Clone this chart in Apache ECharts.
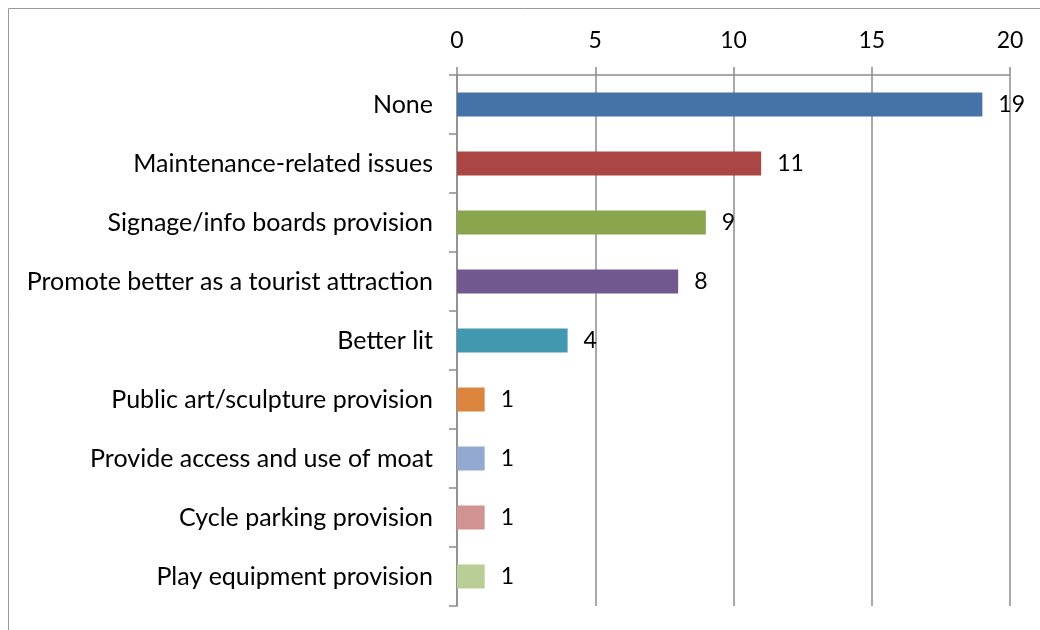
<!DOCTYPE html>
<html>
<head>
<meta charset="utf-8">
<script src="https://cdn.jsdelivr.net/npm/echarts@6/dist/echarts.min.js"></script>
<style>
  html, body { margin: 0; padding: 0; background: #fff; }
  #chart { width: 1040px; height: 630px; }
</style>
</head>
<body>
<div id="chart"></div>
<script>
const categories = [
  'None',
  'Maintenance-related issues',
  'Signage/info boards provision',
  'Promote better as a tourist attraction',
  'Better lit',
  'Public art/sculpture provision',
  'Provide access and use of moat',
  'Cycle parking provision',
  'Play equipment provision'
]
const counts = [19, 11, 9, 8, 4, 1, 1, 1, 1]
const barColors = ['#4572a7', '#aa4643', '#89a54e', '#71588f', '#4198af', '#db843d', '#93a9cf', '#d19392', '#b9cd96']

const chart = echarts.init(document.getElementById('chart'))
const font = 'Lato'
const gray = '#8c8c8c'

chart.setOption({
  animation: false,
  graphic: [
    {
      type: 'rect',
      shape: { x: 8.5, y: 8.5, width: 1100, height: 700 },
      style: { fill: 'none', stroke: '#9a9a9a', lineWidth: 1 },
      silent: true
    }
  ],
  grid: {
    left: 457,
    right: 30,
    top: 75,
    bottom: 24
  },
  xAxis: {
    type: 'value',
    position: 'top',
    min: 0,
    max: 20,
    interval: 5,
    axisLine: { show: true, lineStyle: { color: gray, width: 1.5 } },
    axisTick: { show: true, length: 8, lineStyle: { color: gray, width: 1.5 } },
    axisLabel: { color: '#000', fontSize: 23, fontFamily: font, margin: 23 },
    splitLine: { show: true, lineStyle: { color: gray, width: 1.5 } }
  },
  yAxis: {
    type: 'category',
    inverse: true,
    data: categories,
    axisLine: { show: true, lineStyle: { color: gray, width: 1.5 } },
    axisTick: { show: true, length: 8, alignWithLabel: false, lineStyle: { color: gray, width: 1.5 } },
    axisLabel: { color: '#000', fontSize: 25, fontFamily: font, margin: 24 },
    splitLine: { show: false }
  },
  series: [
    {
      type: 'bar',
      barWidth: 24,
      data: counts.map((v, i) => ({ value: v, itemStyle: { color: barColors[i] } })),
      label: {
        show: true,
        position: 'right',
        distance: 16,
        color: '#000',
        fontSize: 23,
        fontFamily: font
      }
    }
  ]
})
</script>
</body>
</html>
